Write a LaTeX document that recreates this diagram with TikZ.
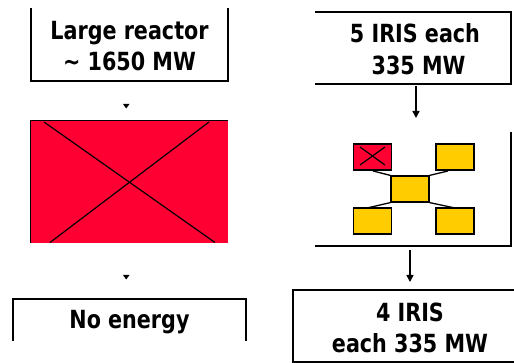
\documentclass[tikz,border=0pt]{standalone}
\usepackage{fontspec}
\setmainfont[FakeStretch=0.92]{DejaVu Sans Condensed}
\usetikzlibrary{arrows.meta}
\definecolor{rred}{HTML}{FF0033}
\definecolor{ryel}{HTML}{FFCC00}
\tikzset{
  frame/.style={line width=2pt},
  lbl/.style={align=center,font=\fontsize{25}{31.5}\selectfont\bfseries},
  unit/.style={draw=black,line width=1.2pt,fill=ryel,minimum width=38pt,minimum height=26pt,inner sep=0pt},
  link/.style={line width=1.3pt},
  flow/.style={line width=1.5pt,-{Triangle[width=7pt,length=7pt]}},
  tip/.style={fill=black}
}
\begin{document}
\begin{tikzpicture}[x=1pt,y=-1pt]
\useasboundingbox (0,0) rectangle (514,363);
% left column
\node[lbl] (l1) at (129.5,46) {Large reactor\\\textasciitilde\ 1650 MW};
\draw[frame] (31,8) -- (31,81) -- (228,81) -- (228,8);
\fill[tip] (123,104) -- (129.5,104) -- (126.2,108.5) -- cycle;
\node[fill=rred,minimum width=197pt,minimum height=122pt,inner sep=0pt] (big) at (129.5,182) {};
\draw[line width=0.8pt] (big.south west) -- (big.north west) -- (big.north east);
\draw[line width=1.2pt] (44,122) -- (215,242.5);
\draw[line width=1.2pt] (209,122) -- (50,242.5);
\fill[tip] (123,275) -- (129.5,275) -- (126.2,279.5) -- cycle;
\node[lbl] (l3) at (129.5,322) {No energy};
\draw[frame] (13,341) -- (13,299) -- (246,299) -- (246,341);
% right column
\node[lbl] (r1) at (415,49) {5 IRIS each\\\ 335 MW};
\draw[frame] (315,12) -- (511,12) -- (511,84) -- (315,84);
\coordinate (a1s) at (416,86);
\coordinate (a1e) at (416,118);
\draw[flow] (a1s) -- (a1e);
\draw[frame] (511,132) -- (511,246) -- (315,246);
\node[unit,fill=rred] (u1) at (372.5,157) {};
\node[unit] (u2) at (455,157) {};
\node[unit] (u0) at (410,189) {};
\node[unit] (u3) at (372.5,221) {};
\node[unit] (u4) at (455,221) {};
\draw[line width=1.2pt] (360,147) -- (385,165);
\draw[line width=1.2pt] (385,147) -- (360,165);
\draw[link] (373,171) -- (u0.north west);
\draw[link] (448,171) -- (u0.north east);
\draw[link] (367,208) -- (u0.south west);
\draw[link] (455,208) -- (u0.south east);
\coordinate (a2s) at (410,250);
\coordinate (a2e) at (410,282);
\draw[flow] (a2s) -- (a2e);
\node[lbl] (r3) at (410,328) {4 IRIS\\each 335 MW};
\draw[frame] (515,290) -- (293,290) -- (293,362) -- (515,362);
\end{tikzpicture}
\end{document}
